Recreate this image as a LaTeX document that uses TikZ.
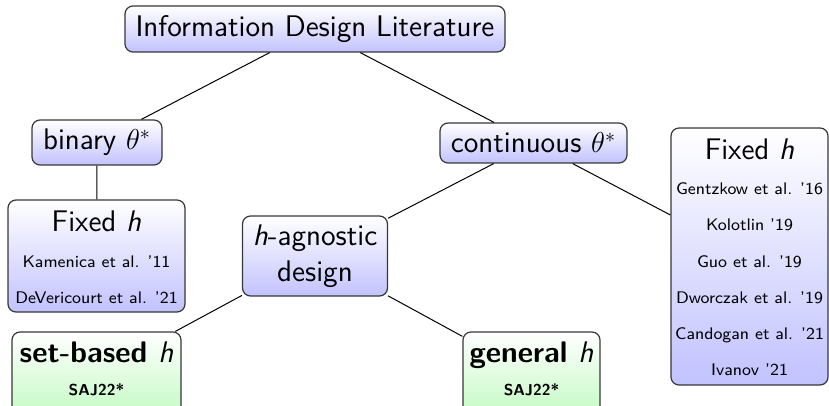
\documentclass[tikz,border=0pt]{standalone}
\usepackage{fontspec}
\renewcommand{\familydefault}{\sfdefault}
\definecolor{bluebot}{RGB}{194,194,255}
\definecolor{greenbot}{RGB}{196,250,196}
\definecolor{boxedge}{RGB}{55,55,55}
\newcommand{\bigfont}{\fontsize{14.9}{18}\selectfont}
\begin{document}
\begin{tikzpicture}[x=0.5pt,y=-0.5pt,
  bluebox/.style={draw=boxedge, line width=0.6pt, rounded corners=4pt, top color=white, bottom color=bluebot, inner sep=0pt, align=center, font=\bigfont},
  greenbox/.style={draw=boxedge, line width=0.6pt, rounded corners=4pt, top color=white, bottom color=greenbot, inner sep=0pt},
  reftext/.style={anchor=base, inner sep=0pt, font=\fontsize{8.4}{10}\selectfont},
  titletext/.style={anchor=base, inner sep=0pt, font=\bigfont},
  link/.style={draw=black, line width=0.5pt}]
\useasboundingbox (0,0) rectangle (829,406);
\clip (0,0) rectangle (829,406);

% boxes
\node[bluebox, minimum width=190pt, minimum height=23pt] (root) at (315,29) {Information Design Literature};
\node[bluebox, minimum width=65pt, minimum height=22.5pt] (binary) at (97,142.5) {binary $\theta^*$};
\node[bluebox, minimum width=93.5pt, minimum height=20pt] (cont) at (533.5,143) {continuous $\theta^*$};
\node[bluebox, minimum width=88.5pt, minimum height=56pt] (fixl) at (96.5,256) {};
\node[bluebox, minimum width=72.5pt, minimum height=40pt] (agn) at (315,256) {\textit{h}-agnostic\\design};
\node[bluebox, minimum width=78.5pt, minimum height=128.5pt] (fixr) at (749.5,256.5) {};
\node[greenbox, minimum width=84.5pt, minimum height=42pt] (setb) at (96.5,374) {};
\node[greenbox, minimum width=68.5pt, minimum height=42pt] (gen) at (531.5,374) {};

% texts inside the multi-line boxes
\node[titletext] (fixltitle) at (96.5,232) {Fixed \textit{h}};
\node[reftext] (kam) at (96.5,267) {Kamenica et al. '11};
\node[reftext] (dev) at (96.5,303) {DeVericourt et al. '21};

\node[titletext] (fixrtitle) at (749.5,160) {Fixed \textit{h}};
\node[reftext] (gen16) at (749.5,195) {Gentzkow et al. '16};
\node[reftext] (kol) at (749.5,231) {Kolotlin '19};
\node[reftext] (guo) at (749.5,267) {Guo et al. '19};
\node[reftext] (dwo) at (749.5,303) {Dworczak et al. '19};
\node[reftext] (can) at (749.5,339) {Candogan et al. '21};
\node[reftext] (iva) at (749.5,375) {Ivanov '21};

\node[titletext] (setbtitle) at (96.5,362) {\bfseries set-based {\mdseries\itshape h}};
\node[reftext, font=\fontsize{7.9}{10}\selectfont\bfseries] (saj1) at (96.5,395) {SAJ22*};
\node[titletext] (gentitle) at (531.5,362) {\bfseries general {\mdseries\itshape h}};
\node[reftext, font=\fontsize{7.9}{10}\selectfont\bfseries] (saj2) at (531.5,395) {SAJ22*};

% connectors
\draw[link] (root) -- (binary);
\draw[link] (root) -- (cont);
\draw[link] (binary) -- (fixl);
\draw[link] (cont) -- (agn);
\draw[link] (cont) -- (fixr);
\draw[link] (agn) -- (setb);
\draw[link] (agn) -- (gen);
\end{tikzpicture}
\end{document}
